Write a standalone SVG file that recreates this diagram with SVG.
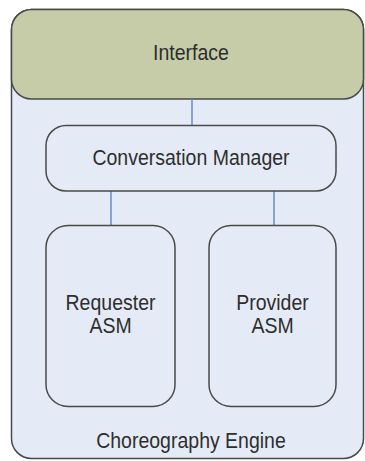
<svg xmlns="http://www.w3.org/2000/svg" width="365" height="461" viewBox="0 0 365 461">
  <style>
    .box { fill: #e5ebf6; stroke: #4a4a4a; stroke-width: 1.5; }
    .iface { fill: #c5cca7; stroke: #4a4a4a; stroke-width: 1.5; }
    .link { stroke: #6a93cf; stroke-width: 1.6; fill: none; }
    text { font-family: "Liberation Sans", Arial, sans-serif; font-size: 19.5px; fill: #2e2e2e; text-anchor: middle; }
  </style>
  <rect width="365" height="461" fill="#ffffff"/>

  <!-- container; labels are drawn slightly tall (scaled 1.1 vertically around their baseline) -->
  <g id="choreography-engine">
    <rect class="box" x="11.5" y="9.5" width="352" height="449" rx="20" ry="20"/>
    <text transform="translate(191,448) scale(1,1.1)">Choreography Engine</text>
  </g>

  <g id="interface">
    <rect class="iface" x="11.5" y="9.5" width="352" height="89.5" rx="20" ry="20"/>
    <text transform="translate(191,60) scale(1,1.1)">Interface</text>
  </g>

  <!-- connectors -->
  <g id="connectors">
    <line class="link" x1="192" y1="99" x2="192" y2="125"/>
    <line class="link" x1="111" y1="191" x2="111" y2="225"/>
    <line class="link" x1="274" y1="191" x2="274" y2="225"/>
  </g>

  <g id="conversation-manager">
    <rect class="box" x="46" y="125.5" width="290" height="65.5" rx="20" ry="20"/>
    <text transform="translate(191,165) scale(1,1.1)">Conversation Manager</text>
  </g>

  <g id="requester-asm">
    <rect class="box" x="46" y="225.5" width="129" height="181" rx="22" ry="22"/>
    <text transform="translate(110.5,310) scale(1,1.1)">Requester</text>
    <text transform="translate(110.5,333) scale(1,1.1)">ASM</text>
  </g>

  <g id="provider-asm">
    <rect class="box" x="209" y="225.5" width="127" height="181" rx="22" ry="22"/>
    <text transform="translate(272.5,310) scale(1,1.1)">Provider</text>
    <text transform="translate(272.5,333) scale(1,1.1)">ASM</text>
  </g>
</svg>
